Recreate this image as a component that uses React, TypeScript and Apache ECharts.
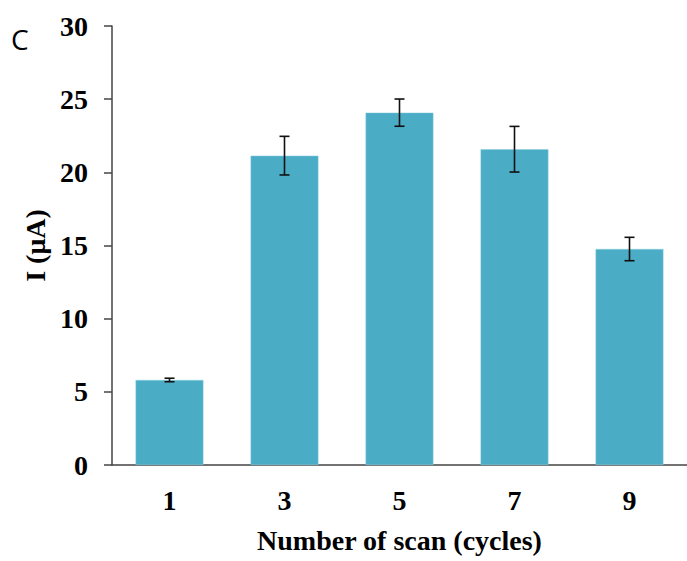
import React, { useEffect, useRef } from "react";
import * as echarts from "echarts";

const categories = ["1", "3", "5", "7", "9"];
const values = [5.81, 21.14, 24.08, 21.58, 14.76];
const errors = [0.12, 1.32, 0.93, 1.56, 0.8];
const yTicks = [0, 5, 10, 15, 20, 25, 30];

export default function App() {
  const ref = useRef<HTMLDivElement>(null);
  useEffect(() => {
    if (!ref.current) return;
    const chart = echarts.init(ref.current, null, { renderer: "svg" });
    const serif = "'Liberation Serif', 'Times New Roman', serif";
    chart.setOption({
      animation: false,
      backgroundColor: "#fff",
      graphic: [
        {
          type: "text",
          left: 11,
          top: 25,
          style: { text: "C", font: "28px 'Open Sans', sans-serif", fill: "#000" },
        },
      ],
      grid: { left: 112, top: 26, width: 576, height: 439, containLabel: false },
      xAxis: {
        type: "category",
        data: categories,
        name: "Number of scan (cycles)",
        nameLocation: "middle",
        nameGap: 61,
        nameTextStyle: { fontFamily: serif, fontWeight: "bold", fontSize: 28, color: "#000" },
        axisLine: { lineStyle: { color: "#444", width: 1.5 } },
        axisTick: { alignWithLabel: true, length: 7, lineStyle: { color: "#444", width: 1.5 } },
        axisLabel: { fontFamily: serif, fontWeight: "bold", fontSize: 28, color: "#000", margin: 21 },
      },
      yAxis: {
        type: "value",
        min: 0,
        max: 30,
        interval: 5,
        name: "I (μA)",
        nameLocation: "middle",
        nameGap: 60,
        nameRotate: 90,
        nameTextStyle: { fontFamily: serif, fontWeight: "bold", fontSize: 28, color: "#000" },
        axisLine: { show: true, lineStyle: { color: "#444", width: 1.5 } },
        axisTick: { show: true, length: 8, lineStyle: { color: "#444", width: 1.5 } },
        axisLabel: {
          fontFamily: serif,
          fontWeight: "bold",
          fontSize: 28,
          color: "#000",
          margin: 24,
          formatter: (v: number) => (yTicks.includes(v) ? String(v) : ""),
        },
        splitLine: { show: false },
      },
      series: [
        {
          type: "bar",
          data: values,
          barWidth: "59%",
          itemStyle: { color: "#4BACC6", borderColor: "#8fd0e0", borderWidth: 0.5 },
        },
        {
          type: "custom",
          data: values.map((v, i) => [i, v - errors[i], v + errors[i]]),
          z: 10,
          renderItem: (params: any, api: any) => {
            const x = api.value(0);
            const lo = api.coord([x, api.value(1)]);
            const hi = api.coord([x, api.value(2)]);
            const hw = 5;
            const style = { stroke: "#111", lineWidth: 1.6 };
            return {
              type: "group",
              children: [
                { type: "line", shape: { x1: lo[0], y1: lo[1], x2: hi[0], y2: hi[1] }, style },
                { type: "line", shape: { x1: lo[0] - hw, y1: lo[1], x2: lo[0] + hw, y2: lo[1] }, style },
                { type: "line", shape: { x1: hi[0] - hw, y1: hi[1], x2: hi[0] + hw, y2: hi[1] }, style },
              ],
            };
          },
        },
      ],
    });
    return () => chart.dispose();
  }, []);
  return <div ref={ref} style={{ width: 687, height: 561, position: "absolute", left: 0, top: 0 }} />;
}
